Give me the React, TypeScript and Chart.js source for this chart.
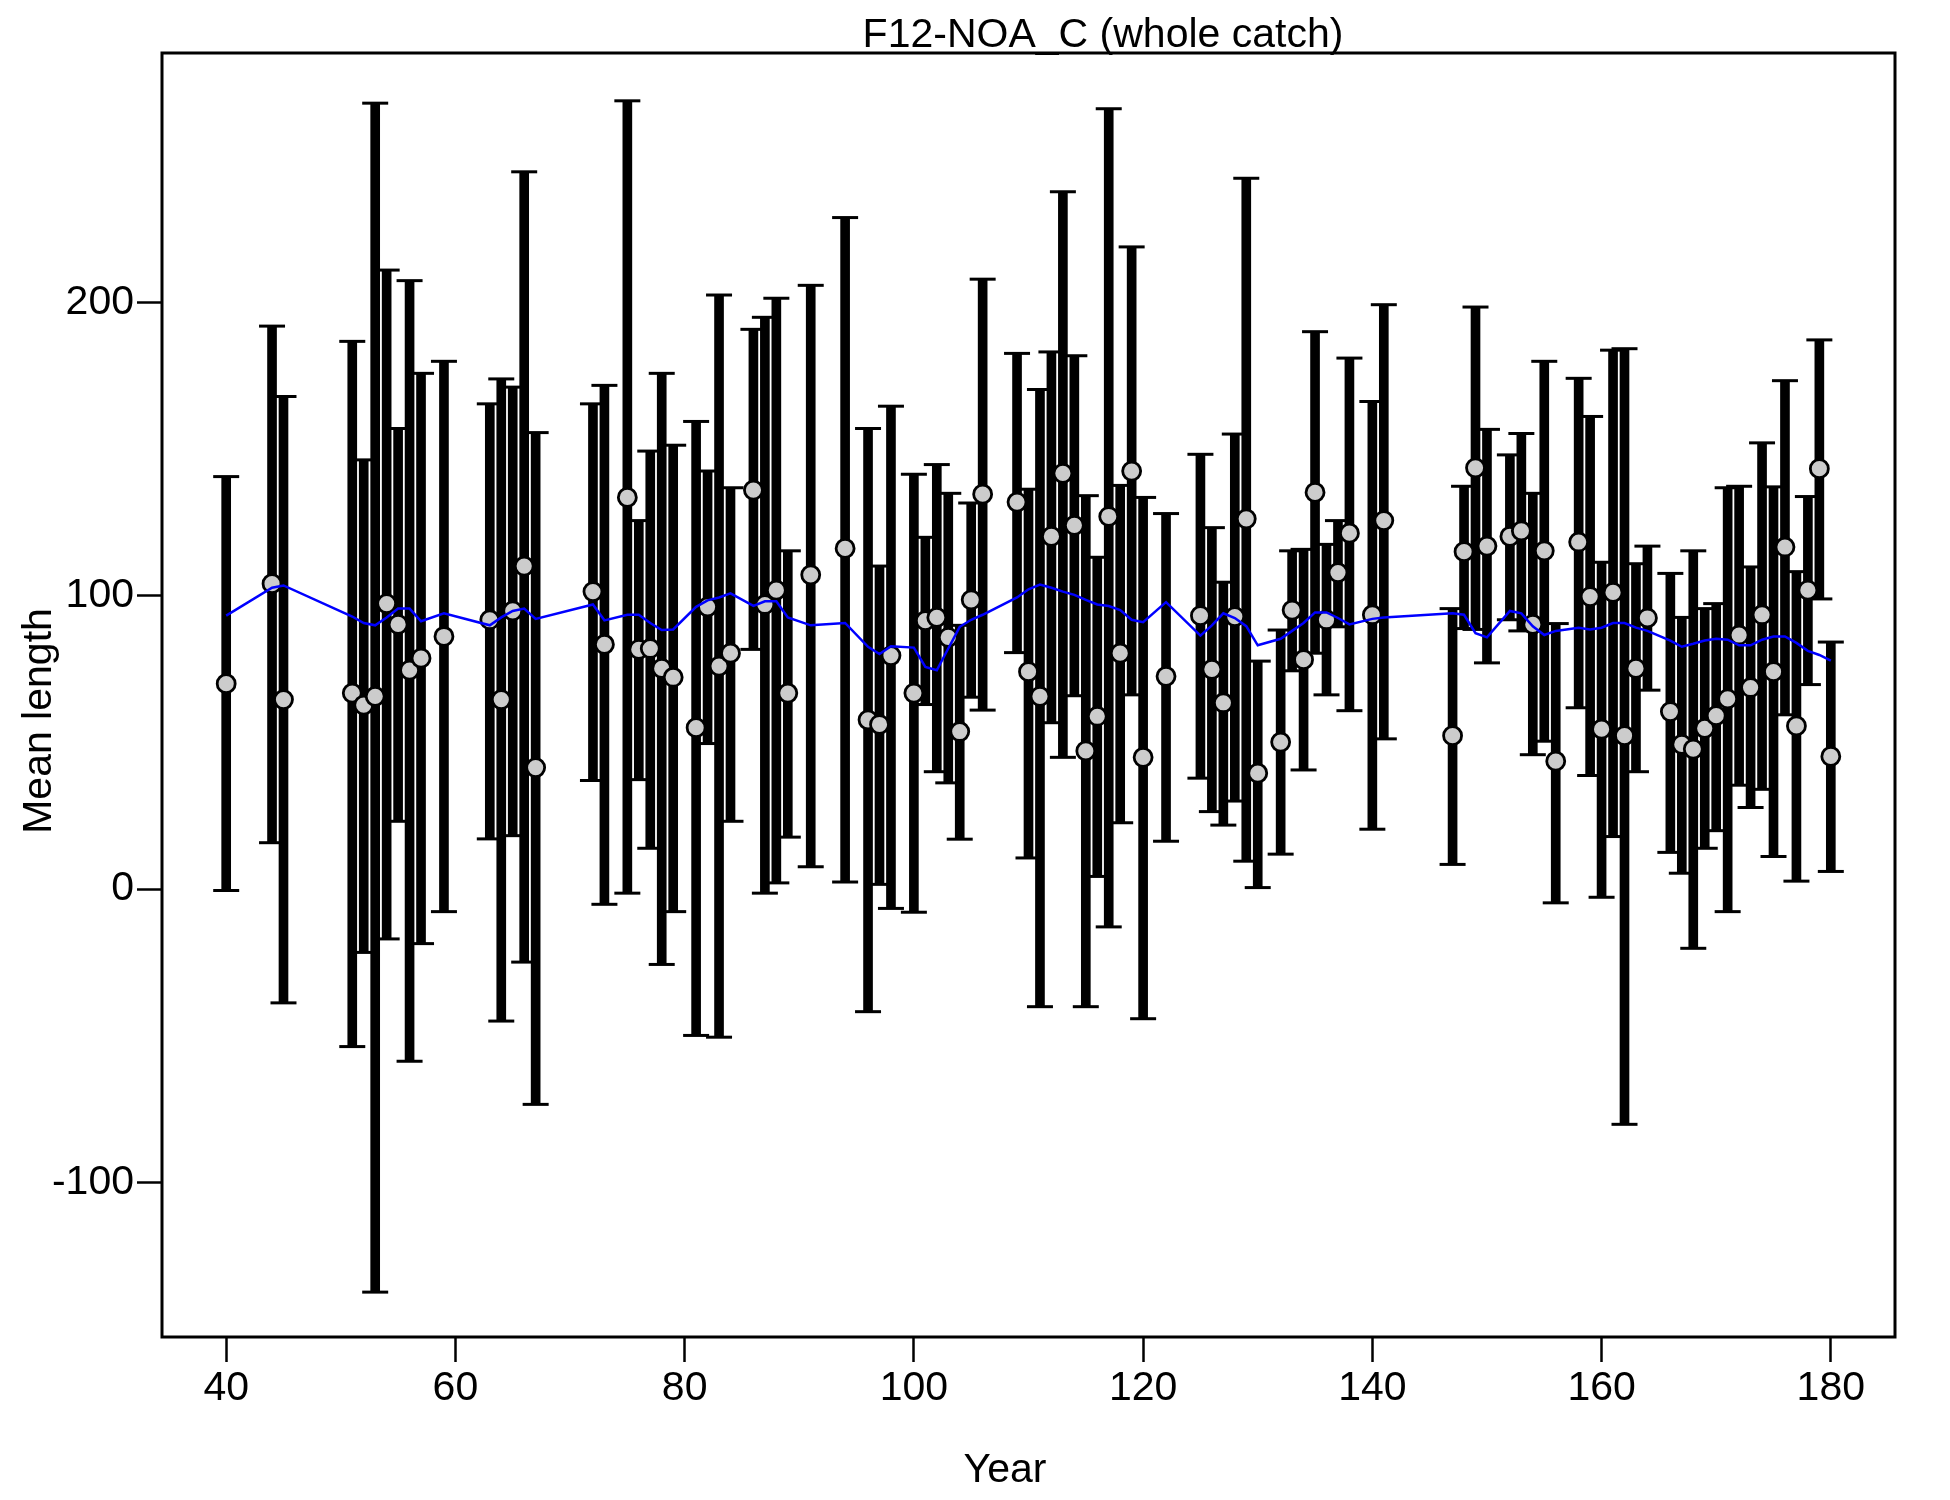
import React, { useEffect, useRef } from "react";
import { Chart, registerables } from "chart.js";

Chart.register(...registerables);

const FONT = "'Liberation Sans', Arial, Helvetica, sans-serif";

const chartTitle = "F12-NOA_C (whole catch)";
const xAxisTitle = "Year";
const yAxisTitle = "Mean length";

const xTickValues = [40, 60, 80, 100, 120, 140, 160, 180];
const yTickValues = [-100, 0, 100, 200];

const years = [
  40, 44, 45, 51, 52, 53, 54, 55, 56, 57, 59, 63, 64, 65, 66, 67, 72, 73, 75, 76,
  77, 78, 79, 81, 82, 83, 84, 86, 87, 88, 89, 91, 94, 96, 97, 98, 100, 101, 102, 103,
  104, 105, 106, 109, 110, 111, 112, 113, 114, 115, 116, 117, 118, 119, 120, 122, 125, 126, 127, 128,
  129, 130, 132, 133, 134, 135, 136, 137, 138, 140, 141, 147, 148, 149, 150, 152, 153, 154, 155, 156,
  158, 159, 160, 161, 162, 163, 164, 166, 167, 168, 169, 170, 171, 172, 173, 174, 175, 176, 177, 178,
  179, 180,
];

const meanLength = [
  70.0, 104.1, 64.6, 66.8, 62.7, 65.7, 97.3, 90.2, 74.6, 78.7, 86.1, 91.8, 64.6, 94.8, 110.1, 41.4, 101.4, 83.4, 133.5, 81.7,
  82.0, 75.2, 72.2, 55.0, 96.2, 76.0, 80.4, 136.0, 97.0, 101.9, 66.8, 107.1, 116.1, 57.7, 56.1, 79.6, 66.8, 91.5, 92.6, 85.8,
  53.7, 98.6, 134.6, 131.9, 74.1, 65.7, 120.2, 141.7, 124.0, 47.1, 58.9, 127.0, 80.4, 142.5, 44.9, 72.5, 93.2, 74.9, 63.5, 92.9,
  126.2, 39.5, 50.1, 95.1, 78.2, 135.2, 91.8, 107.9, 121.3, 93.5, 125.6, 52.3, 115.0, 143.6, 116.9, 120.2, 122.1, 90.2, 115.3, 43.6,
  118.3, 99.7, 54.5, 101.1, 52.3, 75.2, 92.4, 60.5, 49.3, 47.7, 54.8, 59.1, 64.8, 86.6, 68.7, 93.5, 74.1, 116.6, 55.6, 101.9,
  143.3, 45.2,
];

const lowerBound = [
  -0.5, 15.8, -38.8, -53.7, -21.6, -137.4, -17.0, 23.1, -58.7, -18.6, -7.7, 17.1, -45.0, 18.2, -24.9, -73.4, 37.0, -5.2, -1.4, 37.3,
  13.9, -25.7, -7.7, -49.9, 49.6, -50.5, 23.1, 81.7, -1.4, 2.1, 17.7, 7.6, 2.4, -41.8, 1.6, -6.6, -7.9, 62.9, 40.0, 36.2,
  17.0, 65.4, 61.0, 80.6, 10.6, -40.1, 56.7, 44.9, 65.9, -40.1, 4.3, -12.9, 22.6, 66.2, -44.2, 16.3, 37.8, 26.4, 21.8, 30.0,
  9.5, 0.5, 11.9, 74.4, 40.6, 80.4, 66.2, 89.4, 60.8, 20.4, 51.2, 8.4, 88.8, 88.5, 77.1, 91.8, 88.0, 45.8, 50.4, -4.7,
  61.8, 38.7, -2.8, 17.9, -80.2, 40.0, 67.8, 12.5, 5.4, -20.2, 13.9, 19.9, -7.7, 35.4, 27.8, 34.0, 11.1, 59.4, 2.7, 69.7,
  98.9, 6.0,
];

const upperBound = [
  140.6, 191.9, 167.9, 186.7, 146.3, 267.9, 211.0, 157.0, 207.4, 175.8, 179.9, 165.4, 173.9, 171.1, 244.5, 155.6, 165.4, 171.7, 268.7, 125.6,
  149.3, 175.8, 151.3, 159.4, 142.5, 202.5, 136.8, 190.8, 194.9, 201.4, 115.3, 205.8, 228.9, 157.0, 110.1, 164.6, 141.4, 119.9, 144.7, 134.9,
  89.9, 131.6, 207.9, 182.6, 136.3, 170.3, 183.1, 237.7, 181.8, 134.1, 113.1, 266.0, 137.6, 218.9, 133.5, 128.0, 148.2, 123.2, 104.6, 155.1,
  242.3, 77.7, 88.3, 115.3, 115.8, 190.0, 117.5, 125.6, 181.0, 166.2, 199.2, 95.6, 137.3, 198.4, 156.7, 148.0, 155.3, 134.9, 179.9, 90.5,
  174.1, 161.1, 111.4, 183.7, 184.2, 110.9, 116.9, 107.6, 92.6, 115.3, 95.6, 97.3, 136.8, 137.3, 109.8, 152.1, 137.1, 173.3, 108.2, 133.8,
  187.2, 84.2,
];

const expectedMean = [
  93.2, 102.7, 103.5, 92.9, 90.7, 89.9, 92.6, 95.6, 95.6, 91.3, 94.0, 89.9, 92.6, 94.8, 95.6, 92.1, 97.0, 91.6, 93.5, 93.5,
  90.7, 88.3, 88.5, 96.2, 98.4, 99.4, 100.8, 96.5, 98.1, 98.1, 92.6, 89.9, 90.7, 82.6, 80.1, 82.8, 82.3, 75.7, 74.6, 82.0,
  89.4, 91.8, 93.5, 99.4, 102.2, 103.8, 102.7, 101.4, 100.3, 98.6, 97.0, 96.5, 95.1, 91.8, 91.0, 97.8, 86.4, 89.9, 94.0, 92.4,
  89.6, 83.1, 85.3, 88.0, 90.7, 94.3, 94.3, 92.4, 90.2, 92.1, 92.6, 94.0, 93.5, 87.2, 85.8, 94.8, 94.0, 89.6, 86.6, 88.0,
  89.1, 88.5, 89.1, 90.7, 90.7, 89.1, 88.0, 84.7, 82.6, 83.6, 84.7, 85.3, 85.0, 83.1, 83.1, 85.0, 86.1, 86.1, 83.9, 81.2,
  79.8, 77.9,
];

const xMin = 34.4;
const xMax = 185.6;
const yMin = -152.7;
const yMax = 285.0;

const decorPlugin = {
  id: "decor",
  afterDraw(chart: any) {
    const { ctx, chartArea: a } = chart;
    ctx.save();
    ctx.strokeStyle = "#000";
    ctx.lineWidth = 3;
    ctx.strokeRect(a.left, a.top, a.right - a.left, a.bottom - a.top);
    ctx.fillStyle = "#000";
    ctx.font = `41px ${FONT}`;
    ctx.textAlign = "center";
    ctx.textBaseline = "alphabetic";
    ctx.fillText(chartTitle, 1103, 47);
    ctx.fillText(xAxisTitle, 1005, 1482);
    ctx.translate(51, 721);
    ctx.rotate(-Math.PI / 2);
    ctx.fillText(yAxisTitle, 0, 0);
    ctx.restore();
  },
};

export default function App() {
  const canvasRef = useRef<HTMLCanvasElement | null>(null);

  useEffect(() => {
    const canvas = canvasRef.current;
    if (!canvas) return;

    const bars = years.map((yr, i) => ({ x: yr, y: [lowerBound[i], upperBound[i]] }));
    const caps = [
      ...years.map((yr, i) => ({ x: yr, y: lowerBound[i] })),
      ...years.map((yr, i) => ({ x: yr, y: upperBound[i] })),
    ];
    const means = years.map((yr, i) => ({ x: yr, y: meanLength[i] }));
    const expected = years.map((yr, i) => ({ x: yr, y: expectedMean[i] }));

    const tickFont = { family: FONT, size: 41 };

    const chart = new Chart(canvas, {
      type: "bar",
      data: {
        datasets: [
          {
            type: "bar",
            data: bars as any,
            backgroundColor: "#000000",
            borderWidth: 0,
            barThickness: 9,
            order: 4,
          },
          {
            type: "scatter",
            data: caps,
            pointStyle: "line",
            pointRadius: 13,
            borderColor: "#000000",
            borderWidth: 3,
            showLine: false,
            order: 3,
          },
          {
            type: "scatter",
            data: means,
            pointStyle: "circle",
            pointRadius: 9,
            backgroundColor: "#CCCCCC",
            borderColor: "#000000",
            borderWidth: 2.8,
            showLine: false,
            order: 2,
          },
          {
            type: "line",
            data: expected,
            borderColor: "#0000FF",
            borderWidth: 2.5,
            pointRadius: 0,
            tension: 0,
            fill: false,
            order: 1,
          },
        ] as any,
      },
      options: {
        animation: false,
        responsive: false,
        maintainAspectRatio: false,
        events: [],
        layout: { padding: { left: 0, right: 55, top: 53, bottom: 0 } },
        plugins: {
          legend: { display: false },
          tooltip: { enabled: false },
          title: { display: false },
        },
        scales: {
          x: {
            type: "linear",
            position: "bottom",
            min: xMin,
            max: xMax,
            bounds: "data",
            offset: false,
            border: { display: false },
            grid: {
              display: true,
              offset: false,
              drawOnChartArea: false,
              drawTicks: true,
              tickLength: 25,
              tickWidth: 2.5,
              tickColor: "#000000",
            },
            ticks: {
              color: "#000000",
              font: tickFont,
              padding: 2,
              maxRotation: 0,
              autoSkip: false,
              includeBounds: false,
            },
            afterBuildTicks: (s: any) => {
              s.ticks = xTickValues.map((v) => ({ value: v }));
            },
            afterFit: (s: any) => {
              s.height = 163;
            },
          },
          y: {
            type: "linear",
            position: "left",
            min: yMin,
            max: yMax,
            bounds: "data",
            border: { display: false },
            grid: {
              display: true,
              offset: false,
              drawOnChartArea: false,
              drawTicks: true,
              tickLength: 25,
              tickWidth: 2.5,
              tickColor: "#000000",
            },
            ticks: {
              color: "#000000",
              font: tickFont,
              padding: 3,
              autoSkip: false,
              includeBounds: false,
            },
            afterBuildTicks: (s: any) => {
              s.ticks = yTickValues.map((v) => ({ value: v }));
            },
            afterFit: (s: any) => {
              s.width = 162;
            },
          },
        },
      } as any,
      plugins: [decorPlugin],
    });

    return () => {
      chart.destroy();
    };
  }, []);

  return (
    <div style={{ position: "absolute", left: 0, top: 0, width: 1950, height: 1500, background: "#ffffff" }}>
      <canvas ref={canvasRef} width={1950} height={1500} style={{ display: "block" }} />
    </div>
  );
}
